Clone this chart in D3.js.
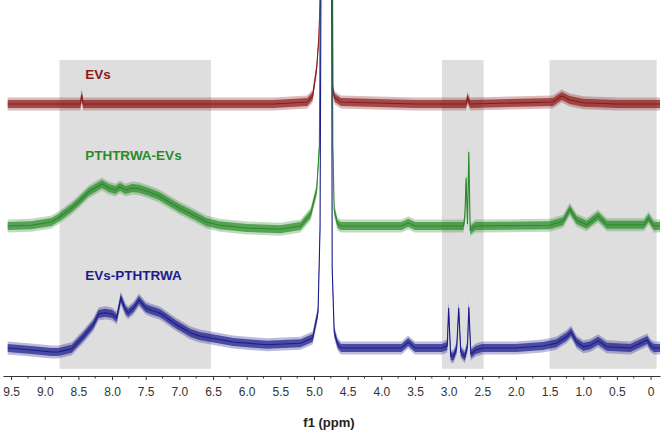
<!DOCTYPE html>
<html>
<head>
<meta charset="utf-8">
<script src="https://cdn.jsdelivr.net/npm/d3@7"></script>
<style>
  body { margin: 0; background: #fff; }
  svg { display: block; font-family: "Liberation Sans", Arial, sans-serif; }
</style>
</head>
<body>
<div id="chart"></div>
<script>
// ppm / relative intensity pairs (baseline = 0)
const evsPpm = [9.55, 8.9, 8.47, 8.45, 8.43, 7.5, 6.5, 5.6, 5.1, 5.02, 4.96, 4.93, 4.91, 4.89, 4.74, 4.72, 4.69, 4.6, 3.5, 2.74, 2.72, 2.68, 1.45, 1.32, 1.2, 1.0, 0.5, -0.14];
const evsVal = [0, 0, 0, 0.22, 0, 0, 0, 0, 0.05, 0.2, 0.9, 1.6, 2.5, 12, 12, 0.35, 0.15, 0.05, 0, 0, 0.15, 0, 0.05, 0.2, 0.1, 0.03, 0, 0];

const pthPpm = [9.55, 9.2, 8.9, 8.8, 8.6, 8.5, 8.35, 8.2, 8.15, 8.05, 7.95, 7.88, 7.8, 7.7, 7.6, 7.45, 7.3, 7.15, 7.0, 6.8, 6.6, 6.4, 6.0, 5.5, 5.2, 5.05, 4.96, 4.92, 4.89, 4.74, 4.72, 4.7, 4.65, 4.6, 3.7, 3.6, 3.5, 2.78, 2.76, 2.74, 2.72, 2.7, 2.68, 2.6, 1.5, 1.3, 1.2, 1.1, 0.95, 0.78, 0.65, 0.1, 0.03, -0.05, -0.14];
const pthVal = [0, 0.02, 0.1, 0.2, 0.45, 0.6, 0.85, 1.0, 1.05, 0.95, 0.9, 0.98, 0.9, 0.95, 0.93, 0.85, 0.75, 0.6, 0.45, 0.28, 0.1, 0.02, -0.05, -0.08, 0, 0.3, 0.9, 2, 12, 12, 2, 0.4, 0.05, 0, 0, 0.08, 0, 0, 0.2, 1.2, 0.05, 1.85, -0.1, 0, 0.02, 0.12, 0.42, 0.15, 0.03, 0.25, 0.03, 0.03, 0.2, 0, 0];

const pepPpm = [9.55, 9.2, 8.9, 8.8, 8.6, 8.43, 8.28, 8.2, 8.1, 8.0, 7.93, 7.87, 7.8, 7.76, 7.68, 7.6, 7.5, 7.43, 7.3, 7.24, 7.1, 7.04, 6.84, 6.7, 6.53, 6.2, 5.7, 5.2, 5.02, 4.94, 4.91, 4.89, 4.74, 4.73, 4.7, 4.65, 4.6, 3.7, 3.6, 3.5, 3.1, 3.02, 3.0, 2.97, 2.93, 2.88, 2.85, 2.82, 2.76, 2.72, 2.7, 2.67, 2.6, 2.5, 2.0, 1.6, 1.4, 1.25, 1.18, 1.1, 1.0, 0.9, 0.78, 0.65, 0.3, 0.05, 0, -0.05, -0.14];
const pepVal = [0, -0.05, -0.1, -0.1, -0.02, 0.28, 0.58, 0.85, 0.88, 0.85, 0.75, 1.25, 0.95, 0.88, 1.0, 1.2, 1.0, 0.95, 0.88, 0.82, 0.65, 0.58, 0.38, 0.3, 0.25, 0.15, 0.08, 0.12, 0.25, 0.9, 3, 12, 12, 2, 0.4, 0.1, 0, 0, 0.15, 0, 0, 0.05, 1.0, -0.2, -0.22, 0, 1.0, -0.1, -0.22, 0.05, 1.02, -0.15, -0.05, 0, 0, 0.05, 0.12, 0.28, 0.4, 0.15, 0.03, 0.06, 0.18, 0.03, 0, 0.2, 0.06, 0, 0];

const seriesNames = ["EVs", "PTHTRWA-EVs", "EVs-PTHTRWA"];
const seriesColors = ["#8b1a1a", "#2a8a2a", "#1c1c8c"];
const seriesOffsets = [6.1, 3.05, 0];

// shaded regions (ppm)
const regionFrom = [8.78, 3.1, 1.5];
const regionTo = [6.53, 2.48, -0.09];

const tickValues = [9.5, 9.0, 8.5, 8.0, 7.5, 7.0, 6.5, 6.0, 5.5, 5.0, 4.5, 4.0, 3.5, 3.0, 2.5, 2.0, 1.5, 1.0, 0.5, 0];
const tickLabels = ["9.5", "9.0", "8.5", "8.0", "7.5", "7.0", "6.5", "6.0", "5.5", "5.0", "4.5", "4.0", "3.5", "3.0", "2.5", "2.0", "1.5", "1.0", "0.5", "0"];

const width = 664, height = 431;
const axisY = 376;

const svg = d3.select("#chart").append("svg")
    .attr("width", width)
    .attr("height", height);

const x = d3.scaleLinear().domain([9.62, -0.14]).range([3, 660]);
const y = d3.scaleLinear().domain([-0.7, 8.7]).range([axisY, 0]);

svg.append("defs").append("clipPath").attr("id", "plot")
    .append("rect").attr("x", 0).attr("y", 0).attr("width", width).attr("height", axisY);

// grey boxes
svg.selectAll(".region")
    .data(regionFrom.map((f, i) => ({ from: f, to: regionTo[i] })))
    .join("rect")
    .attr("class", "region")
    .attr("x", d => x(d.from))
    .attr("width", d => x(d.to) - x(d.from))
    .attr("y", y(7.2))
    .attr("height", y(-0.52) - y(7.2))
    .attr("fill", "#dedede");

const spectra = [
    { ppm: evsPpm, val: evsVal },
    { ppm: pthPpm, val: pthVal },
    { ppm: pepPpm, val: pepVal }
];

const plot = svg.append("g").attr("clip-path", "url(#plot)");

// noise band: soft outer edge, denser core, then the trace itself
spectra.forEach((s, i) => {
    const pts = s.ppm.map((p, k) => ({ p: p, v: s.val[k] + seriesOffsets[i] }));
    const band = h => d3.area()
        .x(d => x(d.p))
        .y0(d => y(d.v) + h)
        .y1(d => y(d.v) - h);
    const line = d3.line()
        .x(d => x(d.p))
        .y(d => y(d.v));
    plot.append("path")
        .datum(pts)
        .attr("d", band(6.5))
        .attr("fill", seriesColors[i])
        .attr("fill-opacity", 0.3);
    plot.append("path")
        .datum(pts)
        .attr("d", band(4))
        .attr("fill", seriesColors[i])
        .attr("fill-opacity", 0.7);
    plot.append("path")
        .datum(pts)
        .attr("d", line)
        .attr("fill", "none")
        .attr("stroke", seriesColors[i])
        .attr("stroke-width", 1.1);
});

// series labels
svg.selectAll(".lbl")
    .data(seriesNames)
    .join("text")
    .attr("class", "lbl")
    .attr("x", x(8.4))
    .attr("y", (d, i) => y(seriesOffsets[i]) - [25, 66, 68][i])
    .attr("fill", (d, i) => seriesColors[i])
    .style("font-size", "13.5px")
    .style("font-weight", "bold")
    .text(d => d);

// axis
const xAxis = d3.axisBottom(x)
    .tickValues(tickValues)
    .tickFormat((d, i) => tickLabels[i])
    .tickSize(4)
    .tickSizeOuter(0)
    .tickPadding(7.5);

const ax = svg.append("g")
    .attr("transform", `translate(0,${axisY})`)
    .call(xAxis);
ax.select(".domain").attr("stroke", "#333");
ax.selectAll(".tick line").attr("stroke", "#333");
ax.selectAll(".tick text")
    .attr("fill", "#333")
    .style("font-size", "12px")
    .style("font-family", "'Liberation Sans', Arial, sans-serif");

const minorTicks = d3.range(0.25, 9.6, 0.5);
ax.selectAll(".minor")
    .data(minorTicks)
    .join("line")
    .attr("class", "minor")
    .attr("x1", d => x(d)).attr("x2", d => x(d))
    .attr("y1", 0).attr("y2", 2.5)
    .attr("stroke", "#333");

svg.append("text")
    .attr("x", 329)
    .attr("y", 427)
    .attr("text-anchor", "middle")
    .attr("fill", "#222")
    .style("font-size", "13px")
    .style("font-weight", "bold")
    .text("f1 (ppm)");
</script>
</body>
</html>
